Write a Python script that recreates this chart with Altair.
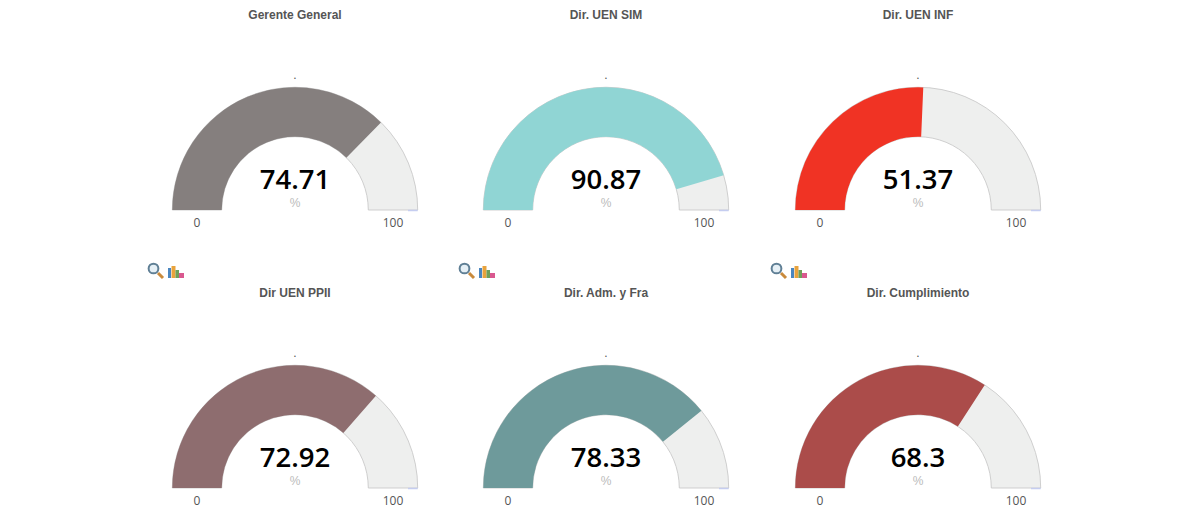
import math
import altair as alt
import pandas as pd

titles = ["Gerente General", "Dir. UEN SIM", "Dir. UEN INF", "Dir UEN PPII", "Dir. Adm. y Fra", "Dir. Cumplimiento"]
values = [74.71, 90.87, 51.37, 72.92, 78.33, 68.3]
colors = ["#857f7e", "#90d5d4", "#f03324", "#8e6d6f", "#6e9a9b", "#ab4c4a"]
axis_min = 0
axis_max = 100
unit = "%"
widths = [311, 312, 312]
row_heights = [278, 220]

CX, BASE, R, r = 155.5, 202, 122.7, 73.3
FONT = "Liberation Sans"
theta_scale = alt.Scale(domain=[axis_min, axis_max], range=[-math.pi / 2, math.pi / 2])


def text(txt, x, y, **kw):
    return alt.Chart(pd.DataFrame({"t": [txt]})).mark_text(baseline="middle", align="center", **kw).encode(
        text="t:N", x=alt.value(x), y=alt.value(y))


def icons():
    bars = [(0, 3, 10, "#4a86c0"), (3.5, 7.5, 12, "#e8a33d"), (7.5, 11, 8, "#6fa05a"), (11, 16, 5, "#d9588f")]
    layers = []
    for a, b, h, c in bars:
        layers.append(alt.Chart(pd.DataFrame({"a": [0]})).mark_rect(color=c).encode(
            x=alt.value(28.5 + a), x2=alt.value(28.5 + b), y=alt.value(270 - h), y2=alt.value(270)))
    layers.append(alt.Chart(pd.DataFrame({"a": [0]})).mark_rule(color="#c98a3c", strokeWidth=3).encode(
        x=alt.value(18.5), x2=alt.value(23.5), y=alt.value(265), y2=alt.value(270)))
    layers.append(alt.Chart(pd.DataFrame({"a": [0]})).mark_point(
        shape="circle", size=95, filled=True, fill="#e6f0f6", stroke="#5f7f95", strokeWidth=2, opacity=1).encode(
        x=alt.value(14), y=alt.value(260.5)))
    return layers


def gauge(i, width, height, with_icon):
    df = pd.DataFrame({"low": [axis_min], "high": [axis_max], "value": [values[i]]})
    base = alt.Chart(df)
    back = base.mark_arc(innerRadius=r, outerRadius=R, fill="#eeefee", stroke="#c9c9c9", strokeWidth=0.9).encode(
        theta=alt.Theta("low:Q", scale=theta_scale, stack=None), theta2="high:Q",
        x=alt.value(CX), y=alt.value(BASE))
    fill = base.mark_arc(innerRadius=r, outerRadius=R, fill=colors[i]).encode(
        theta=alt.Theta("low:Q", scale=theta_scale, stack=None), theta2="value:Q",
        x=alt.value(CX), y=alt.value(BASE))
    tick = base.mark_rule(color="#c5cdf0", strokeWidth=1.5).encode(
        x=alt.value(CX + 113), x2=alt.value(CX + R), y=alt.value(BASE + 0.5))
    layers = [back, fill, tick,
              text(titles[i], CX, 6.5, font=FONT, fontSize=12, fontWeight="bold", color="#555555"),
              text(".", CX, 67, font=FONT, fontSize=12, color="#555555"),
              text(str(values[i]), CX, 173, font="Open Sans", fontSize=27.5, fontWeight=600, color="#000000"),
              text(unit, CX, 195, font=FONT, fontSize=12, color="#bbbbbb"),
              text(str(axis_min), CX - 98, 214.5, font="Open Sans", fontSize=12, color="#555555"),
              text(str(axis_max), CX + 98, 214.5, font="Open Sans", fontSize=12, color="#555555")]
    if with_icon:
        layers += icons()
    return alt.layer(*layers).properties(width=width, height=height)


rows = []
for row in range(2):
    panels = [gauge(row * 3 + c, widths[c], row_heights[row], row == 0) for c in range(3)]
    rows.append(alt.hconcat(*panels, spacing=0))

chart = alt.vconcat(*rows, spacing=0, padding={"left": 131.5, "top": 0, "right": 0, "bottom": 0},
                    background="white").configure_view(stroke=None)
chart.save("out.html", embed_options={"renderer": "svg", "actions": False})
